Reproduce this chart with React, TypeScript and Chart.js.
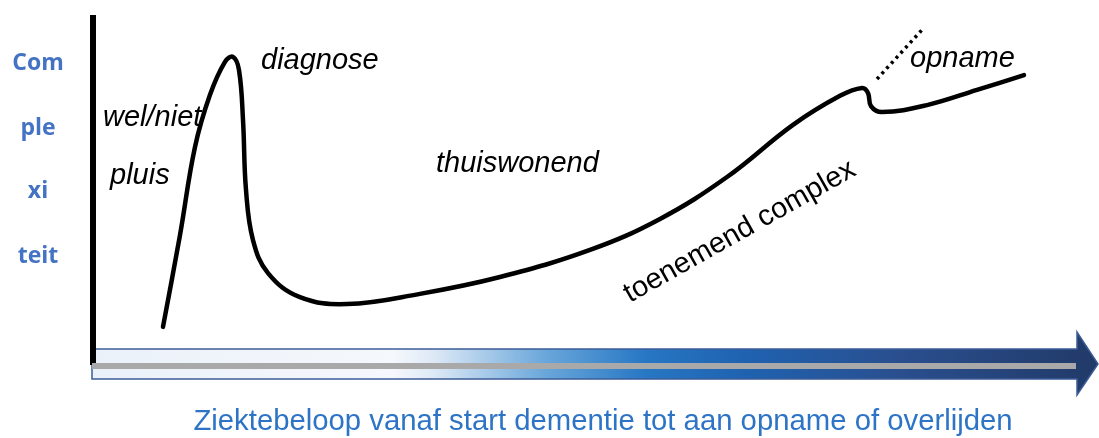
import React, { useEffect, useRef } from "react";
import { Chart, registerables } from "chart.js";

Chart.register(...registerables);

// Curve: time (0..100) vs complexity (0..100)
const timeValues = [7.0, 8.7, 10.2, 11.7, 13.2, 14.0, 14.6, 15.0, 15.3, 16.0, 17.5, 20.7, 25.4, 32.7, 40.7, 49.7, 56.7, 63.4, 70.0, 74.7, 76.9, 77.5, 77.8, 78.9, 83.4, 88.4, 93.1];
const complexityValues = [5.5, 33.3, 60.0, 75.8, 85.8, 87.3, 83.3, 68.2, 47.0, 31.8, 21.8, 14.5, 12.4, 15.5, 20.6, 28.8, 38.2, 50.9, 66.7, 75.5, 77.9, 76.4, 72.4, 70.6, 72.7, 77.3, 81.8];
const dottedTime = [78.4, 82.9];
const dottedComplexity = [80.6, 95.5];

const yAxisWords = ["Com", "ple", "xi", "teit"];
const phaseLabels = ["wel/niet", "pluis", "diagnose", "thuiswonend", "opname"];
const trendLabel = "toenemend complex";
const xAxisTitle = "Ziektebeloop vanaf start dementie tot aan opname of overlijden";

const W = 1099;
const H = 438;

const decorPlugin = {
  id: "decor",
  beforeDatasetsDraw(chart: any) {
    const ctx = chart.ctx as CanvasRenderingContext2D;
    ctx.save();
    // arrow
    const x0 = 92, x1 = 1077, tip = 1098;
    const top = 349, bot = 379, htop = 332, hbot = 395, mid = 364;
    const g = ctx.createLinearGradient(x0, 0, tip, 0);
    g.addColorStop(0, "#ebf1f9");
    g.addColorStop(0.3, "#f5f8fc");
    g.addColorStop(0.34, "#dde9f6");
    g.addColorStop(0.45, "#6aa7da");
    g.addColorStop(0.55, "#2777c4");
    g.addColorStop(0.65, "#1f62b0");
    g.addColorStop(0.8, "#2a4f8f");
    g.addColorStop(1, "#213a68");
    ctx.beginPath();
    ctx.moveTo(x0, top);
    ctx.lineTo(x1, top);
    ctx.lineTo(x1, htop);
    ctx.lineTo(tip, mid);
    ctx.lineTo(x1, hbot);
    ctx.lineTo(x1, bot);
    ctx.lineTo(x0, bot);
    ctx.closePath();
    ctx.fillStyle = g;
    ctx.fill();
    ctx.lineWidth = 1.5;
    ctx.strokeStyle = "#3c5c98";
    ctx.stroke();
    // vertical axis line
    ctx.fillStyle = "#000";
    ctx.fillRect(90, 15, 6, 350);
    // gray line
    ctx.fillStyle = "#a9a9a9";
    ctx.fillRect(92, 363, 984, 6);
    ctx.restore();
  },
  afterDatasetsDraw(chart: any) {
    const ctx = chart.ctx as CanvasRenderingContext2D;
    ctx.save();
    // y-axis words
    ctx.fillStyle = "#4472c4";
    ctx.font = "bold 23px 'Open Sans'";
    ctx.textAlign = "center";
    ctx.textBaseline = "alphabetic";
    const ys = [70, 135, 198, 263];
    yAxisWords.forEach((w, i) => ctx.fillText(w, 38, ys[i]));
    // phase labels
    ctx.fillStyle = "#000";
    ctx.font = "italic 29px 'Liberation Sans'";
    ctx.textAlign = "left";
    const pos = [
      [103, 126],
      [110, 184],
      [261, 69],
      [436, 172],
      [910, 67],
    ];
    phaseLabels.forEach((t, i) => ctx.fillText(t, pos[i][0], pos[i][1]));
    // trend label rotated
    ctx.save();
    ctx.translate(630, 303);
    ctx.rotate((-29.5 * Math.PI) / 180);
    ctx.font = "29px 'Liberation Sans'";
    ctx.fillText(trendLabel, 0, 0);
    ctx.restore();
    // x title
    ctx.fillStyle = "#2e74c6";
    ctx.font = "29.3px 'Liberation Sans'";
    ctx.textAlign = "center";
    ctx.fillText(xAxisTitle, 603, 430);
    ctx.restore();
  },
};

export default function App() {
  const ref = useRef<HTMLCanvasElement>(null);
  useEffect(() => {
    if (!ref.current) return;
    const chart = new Chart(ref.current, {
      type: "line",
      data: {
        datasets: [
          {
            data: timeValues.map((t, i) => ({ x: t, y: complexityValues[i] })),
            borderColor: "#000",
            borderWidth: 4.5,
            pointRadius: 0,
            tension: 0.4,
            borderCapStyle: "round",
            borderJoinStyle: "round",
            fill: false,
          },
          {
            data: dottedTime.map((t, i) => ({ x: t, y: dottedComplexity[i] })),
            borderColor: "#000",
            borderWidth: 3.5,
            borderDash: [3, 4],
            pointRadius: 0,
            fill: false,
          },
        ],
      },
      options: {
        animation: false,
        responsive: false,
        layout: { padding: { left: 93, right: 6, top: 15, bottom: 93 } },
        scales: {
          x: { type: "linear", min: 0, max: 100, display: false },
          y: { type: "linear", min: 0, max: 100, display: false },
        },
        plugins: { legend: { display: false }, tooltip: { enabled: false } },
      },
      plugins: [decorPlugin],
    } as any);
    return () => chart.destroy();
  }, []);
  return (
    <div style={{ position: "fixed", left: 0, top: 0, width: W, height: H, background: "#fff" }}>
      <canvas ref={ref} width={W} height={H} style={{ width: W, height: H, display: "block" }} />
    </div>
  );
}
